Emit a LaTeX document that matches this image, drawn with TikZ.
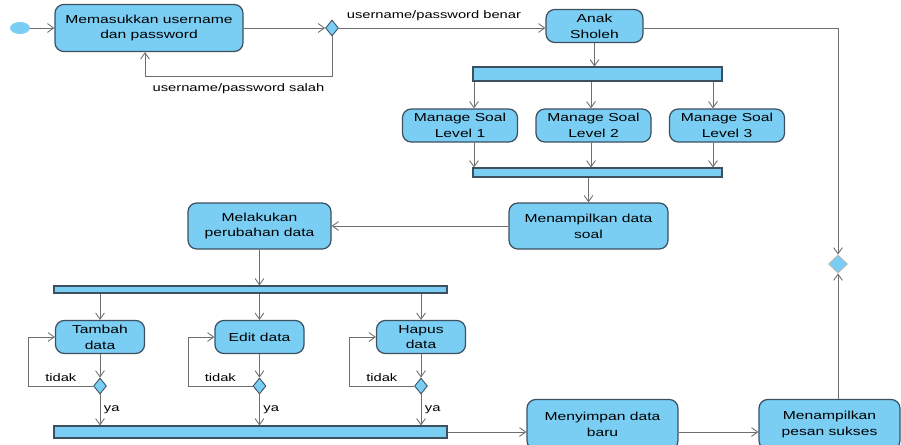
\documentclass[tikz,border=0pt]{standalone}
\usepackage{fontspec}
\setmainfont{Liberation Sans}[FakeStretch=1.35]
\usetikzlibrary{arrows.meta,shapes.geometric}
\definecolor{actfill}{RGB}{122,206,244}
\definecolor{actline}{RGB}{60,80,95}
\definecolor{flowline}{RGB}{110,110,110}
\begin{document}
\begin{tikzpicture}[
    act/.style={draw=actline, fill=actfill, line width=0.7pt, rounded corners=5pt,
        align=center, font=\fontsize{6.6}{9}\selectfont, inner sep=0pt},
    bar/.style={draw=actline, fill=actfill, line width=0.6pt, inner sep=0pt},
    decide/.style={diamond, draw=actline, fill=actfill, line width=0.5pt, inner sep=0pt,
        minimum width=0.26cm, minimum height=0.32cm},
    flow/.style={draw=flowline, line width=0.5pt, -{Straight Barb[length=3.5pt,width=5pt]}},
    lbl/.style={font=\fontsize{6.2}{7}\selectfont, inner sep=1pt}
]
\useasboundingbox (0.0, 0.0) rectangle (18.02, 8.88);

\node[ellipse, fill=actfill, minimum width=0.40cm, minimum height=0.24cm, inner sep=0pt]
    (start) at (0.40, 8.32) {};
\node[act, minimum width=3.76cm, minimum height=0.94cm] (login) at (2.98, 8.32)
    {Memasukkan username\\dan password};
\node[decide] (cek) at (6.64, 8.32) {};
\node[act, minimum width=1.94cm, minimum height=0.66cm] (anak) at (11.89, 8.36)
    {Anak\\Sholeh};

\node[bar, minimum width=4.98cm, minimum height=0.28cm] (fork1) at (11.95, 7.40) {};
\node[act, minimum width=2.30cm, minimum height=0.66cm] (soal1) at (9.20, 6.37)
    {Manage Soal\\Level 1};
\node[act, minimum width=2.30cm, minimum height=0.66cm] (soal2) at (11.87, 6.37)
    {Manage Soal\\Level 2};
\node[act, minimum width=2.30cm, minimum height=0.66cm] (soal3) at (14.54, 6.37)
    {Manage Soal\\Level 3};
\node[bar, minimum width=4.98cm, minimum height=0.18cm] (join1) at (11.95, 5.43) {};

\node[act, minimum width=3.18cm, minimum height=0.92cm] (tampil) at (11.77, 4.36)
    {Menampilkan data\\soal};
\node[act, minimum width=2.86cm, minimum height=0.92cm] (ubah) at (5.19, 4.36)
    {Melakukan\\perubahan data};

\node[bar, minimum width=7.86cm, minimum height=0.14cm] (fork2) at (5.01, 3.09) {};
\node[act, minimum width=1.78cm, minimum height=0.66cm] (tambah) at (2.00, 2.14)
    {Tambah\\data};
\node[act, minimum width=1.78cm, minimum height=0.66cm] (edit) at (5.19, 2.14)
    {Edit data};
\node[act, minimum width=1.78cm, minimum height=0.66cm] (hapus) at (8.42, 2.14)
    {Hapus\\data};
\node[decide] (cektambah) at (2.00, 1.16) {};
\node[decide] (cekedit) at (5.19, 1.16) {};
\node[decide] (cekhapus) at (8.42, 1.16) {};
\node[bar, minimum width=7.86cm, minimum height=0.24cm] (join2) at (5.01, 0.24) {};

\node[act, minimum width=3.02cm, minimum height=1.00cm] (simpan) at (12.05, 0.39)
    {Menyimpan data\\baru};
\node[act, minimum width=2.82cm, minimum height=1.00cm] (pesan) at (16.59, 0.39)
    {Menampilkan\\pesan sukses};
\node[decide, draw=flowline!50, minimum width=0.38cm, minimum height=0.36cm]
    (gabung) at (16.76, 3.60) {};

\draw[flow] (start.east) -- (login.west);
\draw[flow] (login.east) -- (cek.west);
\draw[flow] (cek.south) -- ++(0, -0.80)
    -| node[lbl, below=3pt, pos=0.25] {username/password salah} ([xshift=-0.08cm]login.south);
\draw[flow] (cek.east) -- node[lbl, above=3pt, pos=0.46] {username/password benar}
    (cek.east -| anak.west);
\draw[flow] (anak.east |- cek.east) -| (gabung.north);
\draw[flow] (anak.south) -- (anak.south |- fork1.north);

\foreach \n/\dx in {soal1/0.28, soal2/-0.05, soal3/-0.28} {
    \draw[flow] ([xshift=\dx cm]\n.north |- fork1.south) -- ([xshift=\dx cm]\n.north);
    \draw[flow] ([xshift=\dx cm]\n.south) -- ([xshift=\dx cm]\n.south |- join1.north);
}

\draw[flow] (tampil.north |- join1.south) -- (tampil.north);
\draw[flow] (tampil.west) -- (ubah.east);
\draw[flow] (ubah.south) -- (ubah.south |- fork2.north);

\foreach \n/\c in {tambah/cektambah, edit/cekedit, hapus/cekhapus} {
    \draw[flow] (\n.north |- fork2.south) -- (\n.north);
    \draw[flow] (\n.south) -- (\c.north);
    \draw[flow] (\c.west) -- node[lbl, above=1pt] {tidak} ++(-1.29, 0) |- (\n.west);
    \draw[flow] (\c.south) -- node[lbl, right=1pt] {ya} (\c.south |- join2.north);
}

\draw[flow] (join2.east) -- (join2.east -| simpan.west);
\draw[flow] (simpan.east |- join2.east) -- (pesan.west |- join2.east);
\draw[flow] (gabung |- pesan.north) -- (gabung.south);
\end{tikzpicture}
\end{document}
